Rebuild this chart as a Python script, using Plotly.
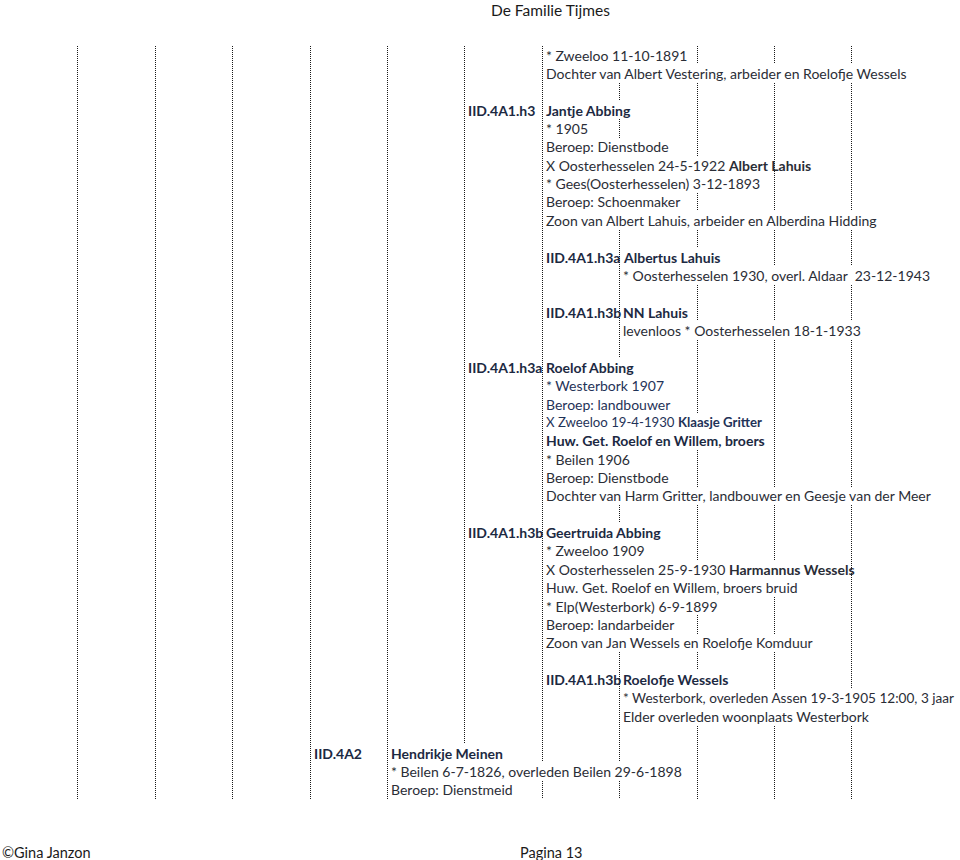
import plotly.graph_objects as go

# page layout of the family tree table (cells are ~77.4 px wide, ~18.4 px high)
n_borders = 11
n_rows = 41

# one entry per text piece: row, column border it starts after, text, number of borders it spills over
row_idx = [0, 1, 3, 3, 4, 5, 6, 7, 8, 9,
           11, 11, 12, 14, 14, 15,
           17, 17, 18, 19, 20, 21, 22, 23, 24,
           26, 26, 27, 28, 29, 30, 31, 32,
           34, 34, 35, 36,
           38, 38, 39, 40]
col_idx = [6, 6, 5, 6, 6, 6, 6, 6, 6, 6,
           6, 7, 7, 6, 7, 7,
           5, 6, 6, 6, 6, 6, 6, 6, 6,
           5, 6, 6, 6, 6, 6, 6, 6,
           6, 7, 7, 7,
           3, 4, 4, 4]
texts = [
    "* Zweeloo 11-10-1891",
    "Dochter van Albert Vestering, arbeider en Roelofje Wessels",
    "<b>IID.4A1.h3</b>",
    "<b>Jantje Abbing</b>",
    "* 1905",
    "Beroep: Dienstbode",
    "X Oosterhesselen 24-5-1922 <b>Albert Lahuis</b>",
    "* Gees(Oosterhesselen) 3-12-1893",
    "Beroep: Schoenmaker",
    "Zoon van Albert Lahuis, arbeider en Alberdina Hidding",
    "<b>IID.4A1.h3a</b>",
    "<b>Albertus Lahuis</b>",
    "* Oosterhesselen 1930, overl. Aldaar  23-12-1943",
    "<b>IID.4A1.h3b</b>",
    "<b>NN Lahuis</b>",
    "levenloos * Oosterhesselen 18-1-1933",
    "<b>IID.4A1.h3a</b>",
    "<b>Roelof Abbing</b>",
    "* Westerbork 1907",
    "Beroep: landbouwer",
    "X Zweeloo 19-4-1930 <b>Klaasje Gritter</b>",
    "<b>Huw. Get. Roelof en Willem, broers</b>",
    "* Beilen 1906",
    "Beroep: Dienstbode",
    "Dochter van Harm Gritter, landbouwer en Geesje van der Meer",
    "<b>IID.4A1.h3b</b>",
    "<b>Geertruida Abbing</b>",
    "* Zweeloo 1909",
    "X Oosterhesselen 25-9-1930 <b>Harmannus Wessels</b>",
    "Huw. Get. Roelof en Willem, broers bruid",
    "* Elp(Westerbork) 6-9-1899",
    "Beroep: landarbeider",
    "Zoon van Jan Wessels en Roelofje Komduur",
    "<b>IID.4A1.h3b</b>",
    "<b>Roelofje Wessels</b>",
    "* Westerbork, overleden Assen 19-3-1905 12:00, 3 jaar",
    "Elder overleden woonplaats Westerbork",
    "<b>IID.4A2</b>",
    "<b>Hendrikje Meinen</b>",
    "* Beilen 6-7-1826, overleden Beilen 29-6-1898",
    "Beroep: Dienstmeid",
]
spill = [1, 4, 0, 1, 0, 1, 2, 2, 1, 4,
         0, 1, 3, 0, 0, 3,
         0, 1, 1, 1, 2, 2, 1, 1, 4,
         0, 1, 1, 3, 3, 2, 1, 3,
         0, 1, 3, 3,
         0, 1, 3, 1]
navy_rows = [18, 19, 20]

header = "De Familie Tijmes"
footer_left = "©Gina Janzon"
footer_right = "Pagina 13"

col_w = 77.4
row_h = 18.37
y_first = 55.0


def bx(k):
    return round(col_w * (k + 1)) + 0.5


def ry(r):
    return y_first + r * row_h


# which borders are hidden in each row by overflowing text
hidden = set()
for r, c, s in zip(row_idx, col_idx, spill):
    for k in range(c + 1, c + 1 + s):
        hidden.add((r, k))

fig = go.Figure()

for k in range(n_borders):
    xs, ys = [], []
    start = None
    for r in range(n_rows + 1):
        vis = r < n_rows and (r, k) not in hidden
        if vis and start is None:
            start = r
        if not vis and start is not None:
            xs += [bx(k), bx(k), None]
            ys += [round(ry(start) - row_h / 2), round(ry(r - 1) + row_h / 2), None]
            start = None
    fig.add_trace(go.Scatter(
        x=xs, y=ys, mode="lines",
        line=dict(color="#1a1a1a", width=1, dash="1px,1px"),
        hoverinfo="skip", showlegend=False,
    ))

for r, c, t in zip(row_idx, col_idx, texts):
    color = "#1f3358" if r in navy_rows else "#2a2d36"
    if t.startswith("<b>"):
        color = "#1c2942"
    size = 14
    if r == 20:
        size = 13.2
    if r == 35:
        size = 13.6
    fig.add_annotation(
        x=bx(c) + 1, y=ry(r), text=t, showarrow=False,
        xanchor="left", yanchor="middle",
        font=dict(family="Lato", size=size, color=color),
    )

fig.add_annotation(x=550, y=10, text=header, showarrow=False,
                   xanchor="center", yanchor="middle",
                   font=dict(family="Lato", size=15.5, color="#1a1a1a"))
fig.add_annotation(x=0, y=852, text=footer_left, showarrow=False,
                   xanchor="left", yanchor="middle",
                   font=dict(family="Lato", size=14.5, color="#1a1a1a"))
fig.add_annotation(x=518, y=852, text=footer_right, showarrow=False,
                   xanchor="left", yanchor="middle",
                   font=dict(family="Lato", size=14.5, color="#1a1a1a"))

fig.update_layout(
    width=960, height=860,
    margin=dict(l=0, r=0, t=0, b=0),
    paper_bgcolor="white", plot_bgcolor="white",
    xaxis=dict(range=[0, 960], visible=False, fixedrange=True),
    yaxis=dict(range=[860, 0], visible=False, fixedrange=True),
    showlegend=False,
)

fig.write_html("out.html", config={"displayModeBar": False},
               post_script="document.body.style.margin='0px';")
